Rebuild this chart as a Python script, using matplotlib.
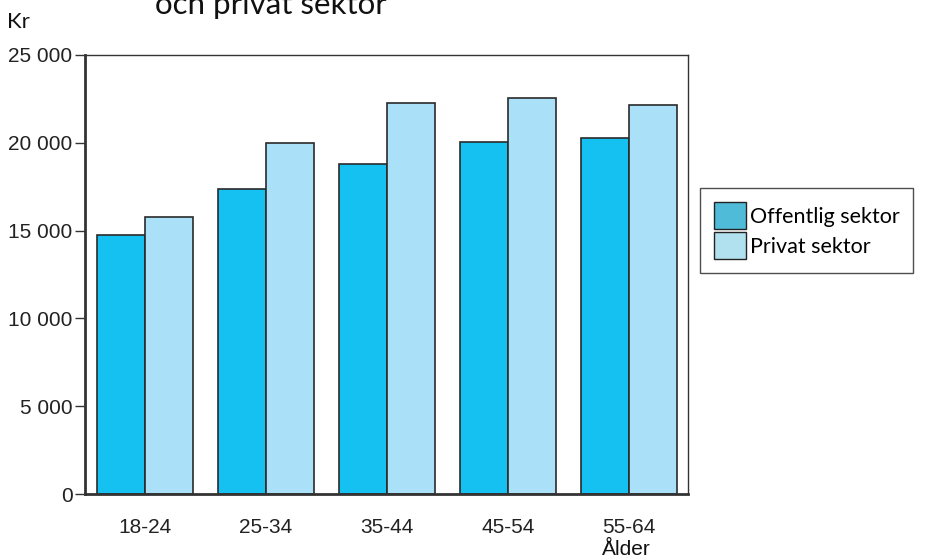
import matplotlib
matplotlib.use("Agg")
import matplotlib.pyplot as plt
import numpy as np
from matplotlib.patches import Patch

categories = ["18-24", "25-34", "35-44", "45-54", "55-64"]
offentlig = [14750, 17370, 18790, 20050, 20270]
privat = [15775, 19990, 22270, 22550, 22150]
yticks = [0, 5000, 10000, 15000, 20000, 25000]
ytick_labels = ["0", "5 000", "10 000", "15 000", "20 000", "25 000"]

fig = plt.figure(figsize=(9.28, 5.59), dpi=100)
ax = fig.add_axes([85/928, 1-494/559, (688-85)/928, (494-55)/559])

x = np.arange(len(categories))
w = 0.397
ax.bar(x - w/2, offentlig, w, color="#14C1F0", edgecolor="#2a2a2a", linewidth=1.2, label="Offentlig sektor")
ax.bar(x + w/2, privat, w, color="#ABE0F9", edgecolor="#2a2a2a", linewidth=1.2, label="Privat sektor")

ax.set_xlim(-0.496, 4.488)
ax.set_ylim(0, 25000)
ax.set_yticks(yticks)
ax.set_yticklabels(ytick_labels, fontfamily="Liberation Sans", fontsize=15, color="#222222")
ax.set_xticks(x)
ax.set_xticklabels(categories, fontfamily="Liberation Sans", fontsize=15, color="#222222")
ax.tick_params(axis="x", length=0, pad=17)
ax.tick_params(axis="y", length=7, width=1, color="#333333", pad=2)
for s in ax.spines.values():
    s.set_linewidth(1.0)
    s.set_color("#333333")
ax.spines["left"].set_linewidth(2)
ax.spines["bottom"].set_linewidth(2)

fig.text(7/928, 1-28/559, "Kr", fontfamily="Lato", fontsize=16, color="#111111", ha="left", va="baseline")
fig.text(626/928, 1-555/559, "Ålder", fontfamily="Liberation Sans", fontsize=15, color="#111111", ha="center", va="baseline")
fig.text(155/928, 1-14/559, "och privat sektor", fontfamily="Lato", fontsize=22.5, color="#111111", ha="left", va="baseline")

handles = [Patch(facecolor="#4FBBD8", edgecolor="#222222", label="Offentlig sektor"),
           Patch(facecolor="#B1E0EE", edgecolor="#222222", label="Privat sektor")]
leg = fig.legend(handles=handles, loc="upper left", bbox_to_anchor=(700/928, 1-188/559),
                 prop={"family": "Lato", "size": 15.5}, frameon=True, fancybox=False,
                 edgecolor="#222222", handlelength=1.5, handleheight=1.55, handletextpad=0.15,
                 labelspacing=0.15, borderpad=0.65, borderaxespad=0)
leg.get_frame().set_linewidth(1.0)

fig.savefig("out.png", dpi=100)
